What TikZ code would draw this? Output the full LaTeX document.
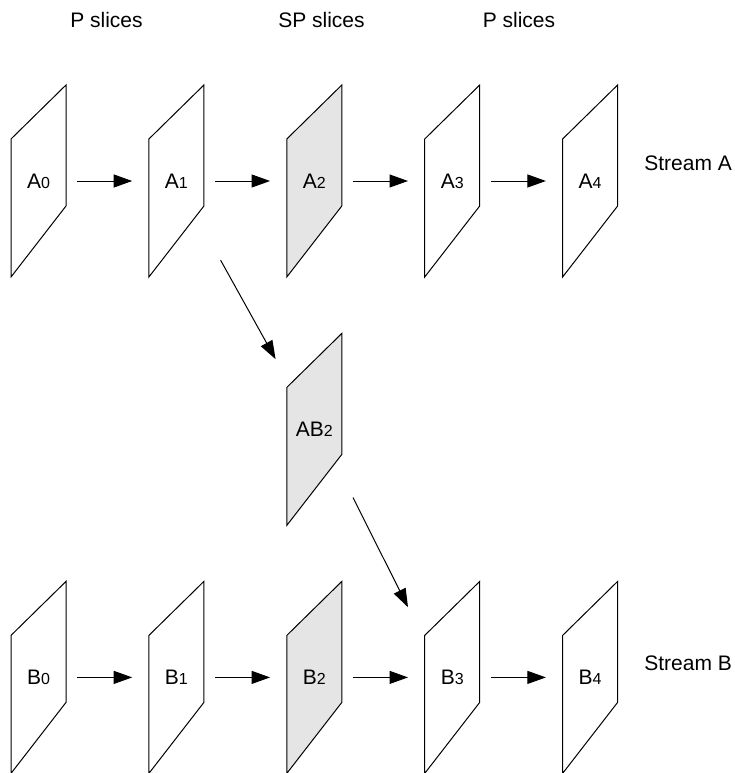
\documentclass[tikz,border=0pt]{standalone}
\usepackage{fontspec}
\setmainfont{Liberation Sans}
\usepackage{xcolor}
\usepackage{tikz}
\usetikzlibrary{positioning, arrows.meta}

\definecolor{spgray}{gray}{0.9}
\newcommand{\idx}[1]{{\fontsize{16pt}{16pt}\selectfont #1}}

\begin{document}
\begin{tikzpicture}[x=1pt, y=1pt, node distance=78.5pt,
	font=\fontsize{21pt}{25pt}\selectfont,
	>={Triangle[length=18.5pt, width=13pt]},
	slice/.style={minimum width=59pt, minimum height=196pt, inner sep=0pt,
		path picture={
			\draw[line width=1pt, fill=#1]
				([shift={(2pt,-56pt)}]path picture bounding box.north west)
				-- ([shift={(-2pt,-2pt)}]path picture bounding box.north east)
				-- ([shift={(-2pt,73pt)}]path picture bounding box.south east)
				-- ([shift={(2pt,2pt)}]path picture bounding box.south west)
				-- cycle;
		}},
	slice/.default=white,
	flow/.style={->, line width=1pt, shorten <=9pt, shorten >=14.5pt}]

		\useasboundingbox (0,0) rectangle (735,-773);

		% Headers
		\node[anchor=base] (head_p_left) at (106.5,-28) {P slices};
		\node[anchor=base] (head_sp) at (321.5,-28) {SP slices};
		\node[anchor=base] (head_p_right) at (519,-28) {P slices};

		% Stream A
		\node[slice] (slice_a0) at (38.5,-181) {A\idx{0}};
		\node[slice, right=of slice_a0] (slice_a1) {A\idx{1}};
		\node[slice=spgray, right=of slice_a1] (slice_a2) {A\idx{2}};
		\node[slice, right=of slice_a2] (slice_a3) {A\idx{3}};
		\node[slice, right=of slice_a3] (slice_a4) {A\idx{4}};
		\node[anchor=base west] (stream_a) at ([xshift=21pt, yshift=10.5pt]slice_a4.east) {Stream A};

		% Switching slice
		\node[slice=spgray, below=52pt of slice_a2] (slice_ab2) {AB\idx{2}};

		% Stream B
		\node[slice, below=300pt of slice_a0] (slice_b0) {B\idx{0}};
		\node[slice, right=of slice_b0] (slice_b1) {B\idx{1}};
		\node[slice=spgray, right=of slice_b1] (slice_b2) {B\idx{2}};
		\node[slice, right=of slice_b2] (slice_b3) {B\idx{3}};
		\node[slice, right=of slice_b3] (slice_b4) {B\idx{4}};
		\node[anchor=base west] (stream_b) at ([xshift=21pt, yshift=7pt]slice_b4.east) {Stream B};

		% Arrows along the streams
		\draw[flow] (slice_a0) -- (slice_a1);
		\draw[flow] (slice_a1) -- (slice_a2);
		\draw[flow] (slice_a2) -- (slice_a3);
		\draw[flow] (slice_a3) -- (slice_a4);
		\draw[flow] (slice_b0) -- (slice_b1);
		\draw[flow] (slice_b1) -- (slice_b2);
		\draw[flow] (slice_b2) -- (slice_b3);
		\draw[flow] (slice_b3) -- (slice_b4);

		% Switch from A to B
		\draw[->, line width=1pt] ([shift={(14.5pt,19pt)}]slice_a1.south east) -- ([shift={(-9pt,-28pt)}]slice_ab2.north west);
		\draw[->, line width=1pt] ([shift={(9pt,30pt)}]slice_ab2.south east) -- ([shift={(-14.5pt,-28pt)}]slice_b3.north west);
	\end{tikzpicture}
\end{document}
